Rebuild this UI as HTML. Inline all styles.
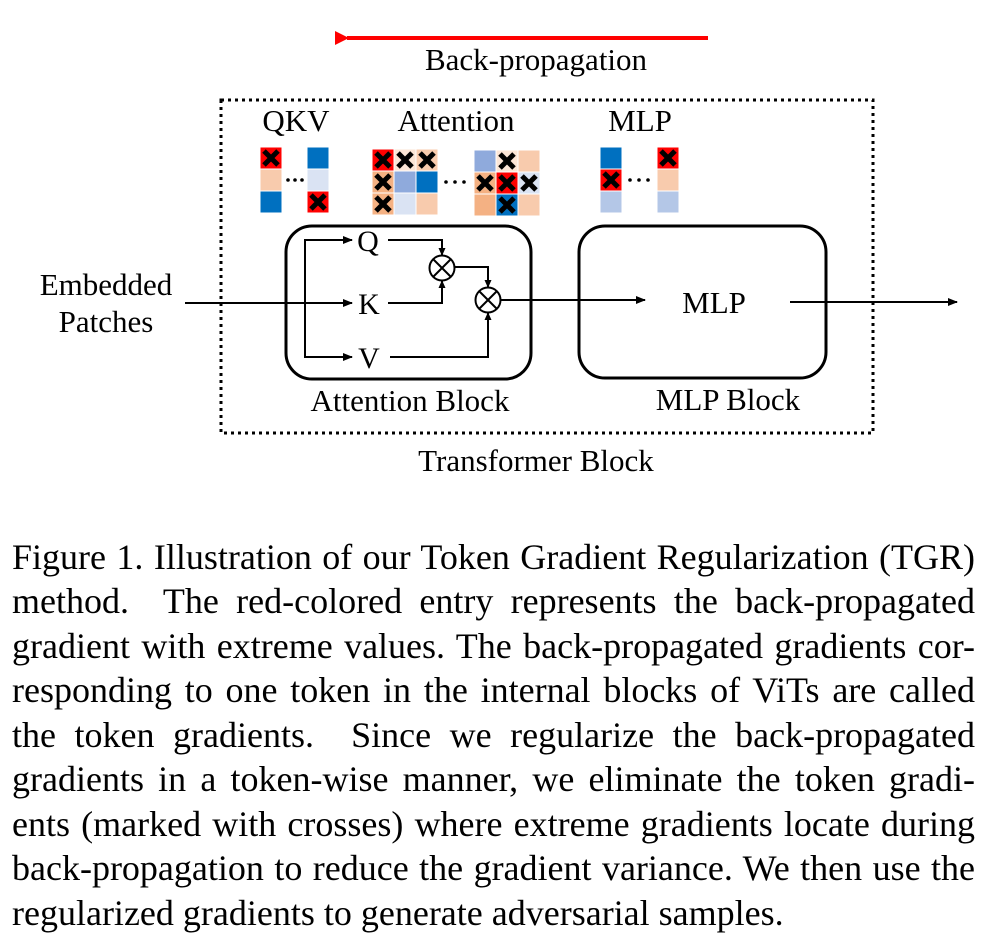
<!DOCTYPE html>
<html><head><meta charset="utf-8"><style>
body{margin:0;background:#fff;width:999px;height:949px;overflow:hidden;position:relative;font-family:"Liberation Serif",serif}
svg{position:absolute;left:0;top:0}
.cap{position:absolute;left:12px;width:963px;font-size:36px;line-height:44.5px;text-align:justify;text-align-last:justify;white-space:nowrap;color:#000;font-family:"Liberation Serif",serif}
</style></head><body>
<svg width="999" height="500" viewBox="0 0 999 500" font-family="Liberation Serif, serif">
<defs>
<marker id="a" markerWidth="10" markerHeight="10" refX="9" refY="5" orient="auto" markerUnits="userSpaceOnUse"><path d="M0,1 L10,5 L0,9 z" fill="#000"/></marker>
<marker id="s" markerWidth="8" markerHeight="8" refX="7" refY="4" orient="auto" markerUnits="userSpaceOnUse"><path d="M0,0.5 L8,4 L0,7.5 z" fill="#000"/></marker>
<marker id="r" markerWidth="14" markerHeight="14" refX="2" refY="7" orient="auto" markerUnits="userSpaceOnUse"><path d="M14,0 L0,7 L14,14 z" fill="#f00"/></marker>
<g id="x"><path d="M4,4 L18,18 M18,4 L4,18" stroke="#000" stroke-width="5"/></g>
</defs>
<line x1="708" y1="38" x2="347" y2="38" stroke="#f00" stroke-width="4" marker-end="url(#r)"/>
<text x="536" y="70" font-size="31" text-anchor="middle">Back-propagation</text>
<rect x="221" y="100" width="652" height="333" fill="none" stroke="#000" stroke-width="3" stroke-dasharray="3,4"/>
<text x="296" y="131" font-size="31" text-anchor="middle">QKV</text>
<text x="456" y="131" font-size="31" text-anchor="middle">Attention</text>
<text x="640" y="131" font-size="31" text-anchor="middle">MLP</text>
<g stroke="#fff" stroke-width="1">
<rect x="260" y="147" width="22" height="22" fill="#f00"/><rect x="260" y="169" width="22" height="22" fill="#F8CBAD"/><rect x="260" y="191" width="22" height="22" fill="#0070C0"/>
<rect x="307" y="147" width="22" height="22" fill="#0070C0"/><rect x="307" y="169" width="22" height="22" fill="#DAE3F3"/><rect x="307" y="191" width="22" height="22" fill="#f00"/>
<rect x="372" y="149" width="22" height="22" fill="#f00"/><rect x="394" y="149" width="22" height="22" fill="#FBE5D6"/><rect x="416" y="149" width="22" height="22" fill="#F8CBAD"/>
<rect x="372" y="171" width="22" height="22" fill="#F4B183"/><rect x="394" y="171" width="22" height="22" fill="#8FAADC"/><rect x="416" y="171" width="22" height="22" fill="#0070C0"/>
<rect x="372" y="193" width="22" height="22" fill="#F4B183"/><rect x="394" y="193" width="22" height="22" fill="#DAE3F3"/><rect x="416" y="193" width="22" height="22" fill="#F8CBAD"/>
<rect x="474" y="150" width="22" height="22" fill="#8FAADC"/><rect x="496" y="150" width="22" height="22" fill="#FBE5D6"/><rect x="518" y="150" width="22" height="22" fill="#F8CBAD"/>
<rect x="474" y="172" width="22" height="22" fill="#F4B183"/><rect x="496" y="172" width="22" height="22" fill="#f00"/><rect x="518" y="172" width="22" height="22" fill="#DAE3F3"/>
<rect x="474" y="194" width="22" height="22" fill="#F4B183"/><rect x="496" y="194" width="22" height="22" fill="#0070C0"/><rect x="518" y="194" width="22" height="22" fill="#F8CBAD"/>
<rect x="600" y="147" width="22" height="22" fill="#0070C0"/><rect x="600" y="169" width="22" height="22" fill="#f00"/><rect x="600" y="191" width="22" height="22" fill="#B4C7E7"/>
<rect x="657" y="147" width="22" height="22" fill="#f00"/><rect x="657" y="169" width="22" height="22" fill="#F8CBAD"/><rect x="657" y="191" width="22" height="22" fill="#B4C7E7"/>
</g>
<use href="#x" x="260" y="147"/><use href="#x" x="307" y="191"/>
<use href="#x" x="372" y="149"/><use href="#x" x="394" y="149"/><use href="#x" x="416" y="149"/><use href="#x" x="372" y="171"/><use href="#x" x="372" y="193"/>
<use href="#x" x="496" y="150"/><use href="#x" x="474" y="172"/><use href="#x" x="496" y="172"/><use href="#x" x="518" y="172"/><use href="#x" x="496" y="194"/>
<use href="#x" x="657" y="147"/><use href="#x" x="600" y="169"/>
<g fill="#000"><circle cx="288" cy="180" r="1.8"/><circle cx="295" cy="180" r="1.8"/><circle cx="302" cy="180" r="1.8"/>
<circle cx="446" cy="182" r="1.8"/><circle cx="455" cy="182" r="1.8"/><circle cx="464" cy="182" r="1.8"/>
<circle cx="630" cy="180" r="1.8"/><circle cx="639" cy="180" r="1.8"/><circle cx="648" cy="180" r="1.8"/></g>
<rect x="286" y="226" width="245" height="153" rx="26" fill="none" stroke="#000" stroke-width="3"/>
<rect x="579" y="226" width="247" height="152" rx="26" fill="none" stroke="#000" stroke-width="3"/>
<text x="106" y="295" font-size="31" text-anchor="middle">Embedded</text>
<text x="106" y="332" font-size="31" text-anchor="middle">Patches</text>
<g stroke="#000" stroke-width="2" fill="none">
<line x1="185" y1="303" x2="352" y2="303" marker-end="url(#a)"/>
<polyline points="305,303 305,240 352,240" marker-end="url(#a)"/>
<polyline points="305,303 305,357 352,357" marker-end="url(#a)"/>
<polyline points="388,240 442,240 442,255" marker-end="url(#s)"/>
<polyline points="388,303 442,303 442,281" marker-end="url(#s)"/>
<polyline points="455,267 488,267 488,287" marker-end="url(#s)"/>
<polyline points="390,357 488,357 488,313" marker-end="url(#s)"/>
<line x1="501" y1="300" x2="645" y2="300" marker-end="url(#a)"/>
<line x1="790" y1="302" x2="957" y2="302" marker-end="url(#a)"/>
<circle cx="442" cy="268" r="12.5"/><path d="M433,259 L451,277 M451,259 L433,277"/>
<circle cx="488" cy="300" r="12.5"/><path d="M479,291 L497,309 M497,291 L479,309"/>
</g>
<text x="368" y="251" font-size="30" text-anchor="middle">Q</text>
<text x="369" y="314" font-size="30" text-anchor="middle">K</text>
<text x="369" y="368" font-size="30" text-anchor="middle">V</text>
<text x="714" y="313" font-size="31" text-anchor="middle">MLP</text>
<text x="410" y="411" font-size="31" text-anchor="middle">Attention Block</text>
<text x="728" y="410" font-size="31" text-anchor="middle">MLP Block</text>
<text x="536" y="471" font-size="31" text-anchor="middle">Transformer Block</text>
</svg>
<div class="cap" style="top:535px">Figure 1. Illustration of our Token Gradient Regularization (TGR)</div>
<div class="cap" style="top:579px">method.&nbsp; The red-colored entry represents the back-propagated</div>
<div class="cap" style="top:624px">gradient with extreme values. The back-propagated gradients cor-</div>
<div class="cap" style="top:668px">responding to one token in the internal blocks of ViTs are called</div>
<div class="cap" style="top:713px">the token gradients.&nbsp; Since we regularize the back-propagated</div>
<div class="cap" style="top:757px">gradients in a token-wise manner, we eliminate the token gradi-</div>
<div class="cap" style="top:802px">ents (marked with crosses) where extreme gradients locate during</div>
<div class="cap" style="top:846px">back-propagation to reduce the gradient variance. We then use the</div>
<div class="cap" style="top:891px;text-align-last:left">regularized gradients to generate adversarial samples.</div>
</body></html>
